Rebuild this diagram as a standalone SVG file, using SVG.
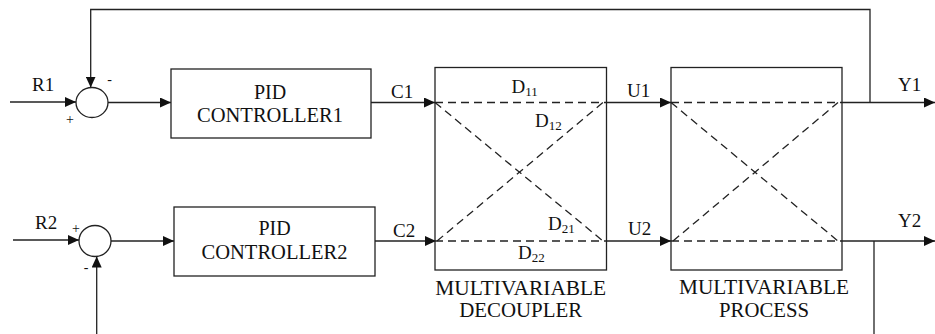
<svg xmlns="http://www.w3.org/2000/svg" width="935" height="334" viewBox="0 0 935 334">
  <style>
    .box { fill: #fff; stroke: #222; stroke-width: 1.3; }
    .sum { fill: #fff; stroke: #222; stroke-width: 1.3; }
    .line { fill: none; stroke: #222; stroke-width: 1.3; }
    .dash { fill: none; stroke: #222; stroke-width: 1.3; stroke-dasharray: 8 5; }
    .t { font-family: "Liberation Serif", "Times New Roman", serif; font-size: 20px; fill: #111; }
    .lbl { font-family: "Liberation Serif", "Times New Roman", serif; font-size: 19px; fill: #111; }
    .sign { font-family: "Liberation Serif", "Times New Roman", serif; font-size: 14px; fill: #111; }
    .sub { font-size: 13px; }
  </style>
  <defs>
    <marker id="arrow" markerWidth="11" markerHeight="10" refX="11" refY="5" orient="auto" markerUnits="userSpaceOnUse">
      <path d="M0,0 L11,5 L0,10 z" fill="#111"/>
    </marker>
  </defs>
  <rect width="935" height="334" fill="#fff"/>

  <g id="connectors">
    <polyline class="line" points="870,102.5 870,9.5 90.7,9.5 90.7,87.5" marker-end="url(#arrow)"/>
    <line class="line" x1="10" y1="102" x2="76" y2="102" marker-end="url(#arrow)"/>
    <line class="line" x1="108" y1="102.5" x2="171" y2="102.5" marker-end="url(#arrow)"/>
    <line class="line" x1="371" y1="102.5" x2="435" y2="102.5" marker-end="url(#arrow)"/>
    <line class="line" x1="606.5" y1="102.5" x2="671" y2="102.5" marker-end="url(#arrow)"/>
    <line class="line" x1="842" y1="102.5" x2="935" y2="102.5" marker-end="url(#arrow)"/>
    <line class="line" x1="13" y1="240" x2="79" y2="240" marker-end="url(#arrow)"/>
    <line class="line" x1="111" y1="241" x2="174" y2="241" marker-end="url(#arrow)"/>
    <line class="line" x1="375" y1="241" x2="436" y2="241" marker-end="url(#arrow)"/>
    <line class="line" x1="606.5" y1="241" x2="671" y2="241" marker-end="url(#arrow)"/>
    <line class="line" x1="842" y1="241" x2="935" y2="241" marker-end="url(#arrow)"/>
    <line class="line" x1="874" y1="241" x2="874" y2="334"/>
    <line class="line" x1="96.7" y1="334" x2="96.7" y2="256.5" marker-end="url(#arrow)"/>
  </g>

  <g id="sum1">
    <ellipse class="sum" cx="92" cy="102.5" rx="16" ry="15"/>
    <text class="sign" x="109.5" y="84" text-anchor="middle">-</text>
    <text class="sign" x="70" y="124" text-anchor="middle">+</text>
  </g>
  <g id="sum2">
    <ellipse class="sum" cx="95" cy="241" rx="16" ry="15.5"/>
    <text class="sign" x="76" y="233" text-anchor="middle">+</text>
    <text class="sign" x="86" y="272" text-anchor="middle">-</text>
  </g>

  <g id="pid1">
    <rect class="box" x="171" y="69" width="200" height="69"/>
    <text class="t" x="270" y="98.5" text-anchor="middle">PID</text>
    <text class="t" x="270" y="121.5" text-anchor="middle" textLength="146" lengthAdjust="spacingAndGlyphs">CONTROLLER1</text>
  </g>
  <g id="pid2">
    <rect class="box" x="174" y="207" width="201" height="69"/>
    <text class="t" x="274.5" y="235" text-anchor="middle">PID</text>
    <text class="t" x="274.5" y="259" text-anchor="middle" textLength="146" lengthAdjust="spacingAndGlyphs">CONTROLLER2</text>
  </g>

  <g id="decoupler">
    <rect class="box" x="435" y="67.5" width="171.5" height="202.5"/>
    <line class="dash" x1="435" y1="102.5" x2="606.5" y2="102.5"/>
    <line class="dash" x1="435" y1="241" x2="606.5" y2="241"/>
    <line class="dash" x1="435" y1="102.5" x2="603" y2="241"/>
    <line class="dash" x1="437" y1="241" x2="603" y2="102.5"/>
    <text class="lbl" x="511.5" y="93">D<tspan class="sub" dy="3">11</tspan></text>
    <text class="lbl" x="535" y="127">D<tspan class="sub" dy="3">12</tspan></text>
    <text class="lbl" x="548" y="230">D<tspan class="sub" dy="3">21</tspan></text>
    <text class="lbl" x="518" y="259">D<tspan class="sub" dy="3">22</tspan></text>
    <text class="t" x="520.7" y="294.5" text-anchor="middle" textLength="171" lengthAdjust="spacingAndGlyphs">MULTIVARIABLE</text>
    <text class="t" x="520.7" y="317" text-anchor="middle" textLength="123" lengthAdjust="spacingAndGlyphs">DECOUPLER</text>
  </g>

  <g id="process">
    <rect class="box" x="671" y="67.5" width="171" height="202.5"/>
    <line class="dash" x1="671" y1="102.5" x2="842" y2="102.5"/>
    <line class="dash" x1="671" y1="241" x2="842" y2="241"/>
    <line class="dash" x1="671" y1="102.5" x2="838" y2="241"/>
    <line class="dash" x1="673" y1="241" x2="838" y2="102.5"/>
    <text class="t" x="764" y="294" text-anchor="middle" textLength="170" lengthAdjust="spacingAndGlyphs">MULTIVARIABLE</text>
    <text class="t" x="764" y="316.5" text-anchor="middle" textLength="90" lengthAdjust="spacingAndGlyphs">PROCESS</text>
  </g>

  <g id="labels">
    <text class="lbl" x="32" y="91">R1</text>
    <text class="lbl" x="35" y="229">R2</text>
    <text class="lbl" x="391" y="98">C1</text>
    <text class="lbl" x="393" y="237">C2</text>
    <text class="lbl" x="627" y="97">U1</text>
    <text class="lbl" x="628" y="235">U2</text>
    <text class="lbl" x="898" y="91">Y1</text>
    <text class="lbl" x="898" y="227">Y2</text>
  </g>
</svg>
